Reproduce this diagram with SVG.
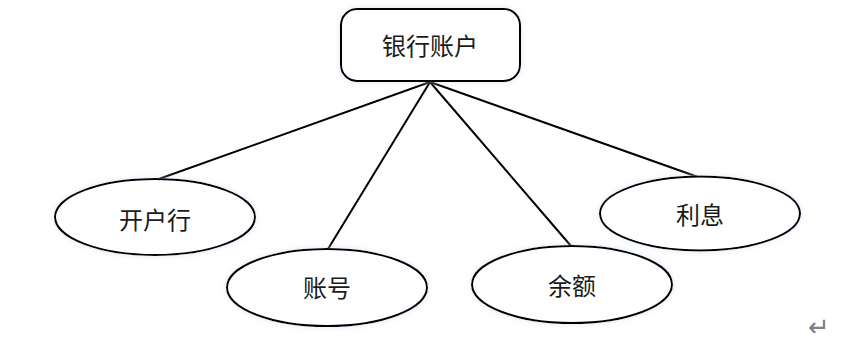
<svg xmlns="http://www.w3.org/2000/svg" width="846" height="341" viewBox="0 0 846 341">
<defs>
<filter id="glow" x="-20%" y="-30%" width="140%" height="160%">
<feGaussianBlur in="SourceAlpha" stdDeviation="3" result="b"/>
<feFlood flood-color="#c9d8ee" flood-opacity="0.6"/>
<feComposite in2="b" operator="in" result="s"/>
<feMerge><feMergeNode in="s"/><feMergeNode in="SourceGraphic"/></feMerge>
</filter>
</defs>
<style>
.shape{fill:#ffffff;stroke:#000000;stroke-width:2;filter:url(#glow)}
.edge{stroke:#000000;stroke-width:2;fill:none}
.lbl{font-family:"Noto Sans CJK SC","Noto Sans CJK JP",sans-serif;font-size:24px;fill:#1a1a1a;text-anchor:middle;dominant-baseline:central}
</style>
<rect width="846" height="341" fill="#ffffff"/>
<g id="connectors">
<line class="edge" x1="430" y1="82" x2="156" y2="180"/>
<line class="edge" x1="430" y1="82" x2="328" y2="249"/>
<line class="edge" x1="430" y1="82" x2="571" y2="246"/>
<line class="edge" x1="430" y1="82" x2="698" y2="177"/>
</g>
<g id="bank-account">
<rect class="shape" x="341" y="9" width="179" height="72" rx="16" ry="16"/>
<text class="lbl" x="430" y="44">银行账户</text>
</g>
<g id="open-bank">
<ellipse class="shape" cx="155" cy="217" rx="100" ry="38"/>
<text class="lbl" x="155" y="218">开户行</text>
</g>
<g id="account-no">
<ellipse class="shape" cx="327" cy="287.5" rx="100" ry="38.5"/>
<text class="lbl" x="327" y="286">账号</text>
</g>
<g id="balance">
<ellipse class="shape" cx="572" cy="284.5" rx="100" ry="38.5"/>
<text class="lbl" x="572" y="284">余额</text>
</g>
<g id="interest">
<ellipse class="shape" cx="700" cy="213.5" rx="100" ry="37"/>
<text class="lbl" x="700" y="213">利息</text>
</g>
<text x="819" y="327" font-family="DejaVu Sans, sans-serif" font-size="26" fill="#808080" text-anchor="middle" dominant-baseline="central">↵</text>
</svg>
